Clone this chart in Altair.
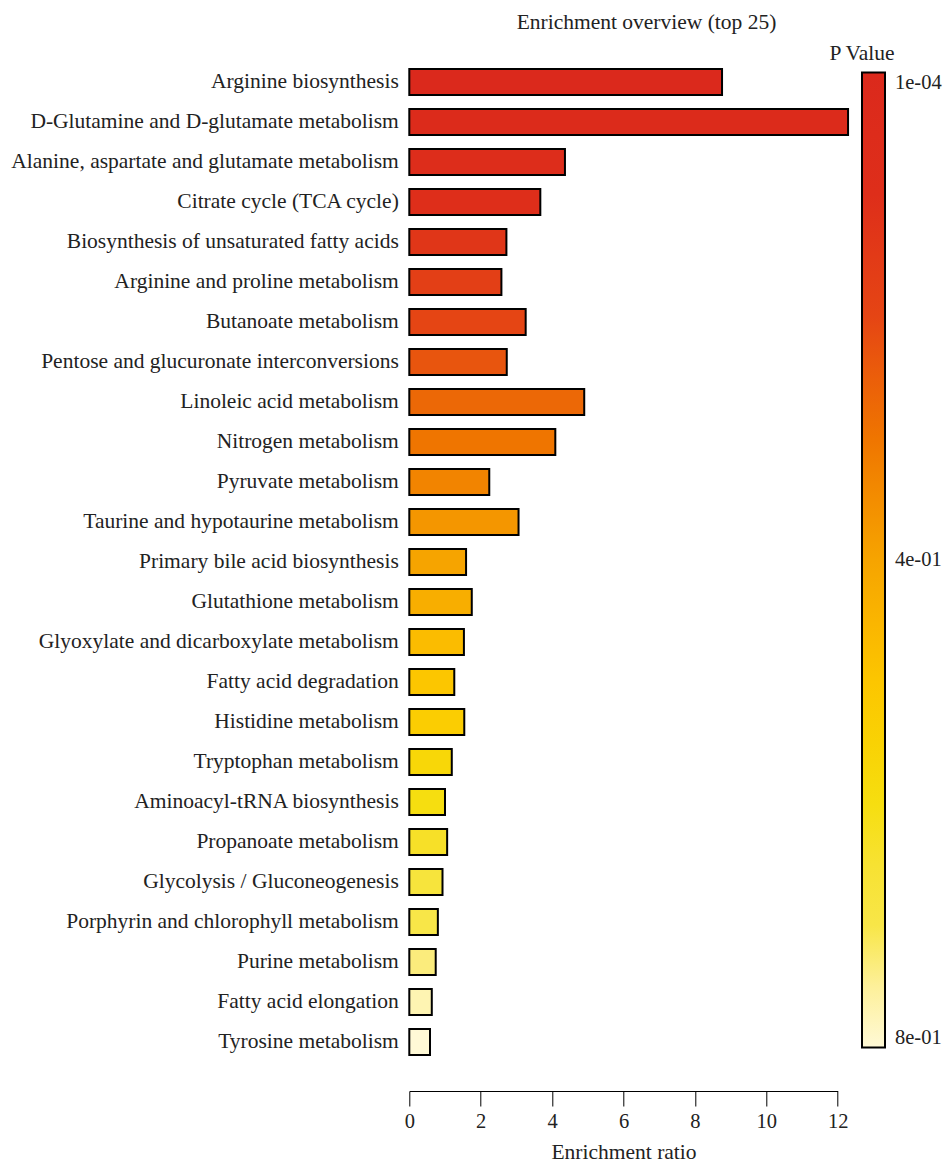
import altair as alt
import pandas as pd

# Pathway enrichment results, ordered as listed on the chart (top to bottom)
pathways = [
    "Arginine biosynthesis",
    "D-Glutamine and D-glutamate metabolism",
    "Alanine, aspartate and glutamate metabolism",
    "Citrate cycle (TCA cycle)",
    "Biosynthesis of unsaturated fatty acids",
    "Arginine and proline metabolism",
    "Butanoate metabolism",
    "Pentose and glucuronate interconversions",
    "Linoleic acid metabolism",
    "Nitrogen metabolism",
    "Pyruvate metabolism",
    "Taurine and hypotaurine metabolism",
    "Primary bile acid biosynthesis",
    "Glutathione metabolism",
    "Glyoxylate and dicarboxylate metabolism",
    "Fatty acid degradation",
    "Histidine metabolism",
    "Tryptophan metabolism",
    "Aminoacyl-tRNA biosynthesis",
    "Propanoate metabolism",
    "Glycolysis / Gluconeogenesis",
    "Porphyrin and chlorophyll metabolism",
    "Purine metabolism",
    "Fatty acid elongation",
    "Tyrosine metabolism",
]

enrichment_ratio = [
    8.76, 12.29, 4.36, 3.67, 2.72, 2.58, 3.26, 2.73, 4.90, 4.09,
    2.24, 3.06, 1.59, 1.75, 1.53, 1.26, 1.54, 1.19, 1.00, 1.06,
    0.93, 0.80, 0.74, 0.63, 0.58,
]

p_values = [
    0.0001, 0.03, 0.07, 0.10, 0.13, 0.17, 0.20, 0.23, 0.27, 0.30,
    0.33, 0.37, 0.40, 0.43, 0.47, 0.50, 0.53, 0.57, 0.60, 0.63,
    0.67, 0.70, 0.73, 0.77, 0.80,
]

# Colour ramp, listed from the largest P value (cream) down to the smallest (red);
# the descending domain puts the smallest P value at the top of the colour bar.
color_domain = [0.8, 0.75, 0.7, 0.6, 0.5, 0.4, 0.3, 0.2, 0.1, 0.0001]
color_range = [
    "#FFF9D6", "#FDF09A", "#F8E648", "#F6DE10", "#FCC600",
    "#F6A400", "#EF7500", "#E54514", "#DE2E1A", "#DB291C",
]

x_ticks = [0, 2, 4, 6, 8, 10, 12]

df = pd.DataFrame({
    "pathway": pathways,
    "ratio": enrichment_ratio,
    "p": p_values,
})

FONT = "Liberation Serif"
INK = "#222222"

PLOT_LEFT = 409.3
PLOT_TOP = 62
PLOT_W = 428.4
PLOT_H = 1000

# The legend title is centred on the colour bar's left edge, so the legend box
# starts half a title width to the left of the bar.
BAR_LEFT = 862
HALF_TITLE = 33

bars = alt.Chart(df).mark_bar(stroke="black", strokeWidth=2).encode(
    y=alt.Y(
        "pathway:N",
        sort=pathways,
        scale=alt.Scale(paddingInner=0.35, paddingOuter=0.175),
        axis=alt.Axis(
            title=None,
            domain=False,
            ticks=False,
            tickSize=0,
            labelPadding=11,
            labelFont=FONT,
            labelFontSize=21.5,
            labelColor=INK,
            labelLimit=500,
        ),
    ),
    x=alt.X(
        "ratio:Q",
        scale=alt.Scale(domain=[0, 12], nice=False),
        axis=alt.Axis(
            title="Enrichment ratio",
            values=x_ticks,
            grid=False,
            offset=29,
            tickSize=15,
            tickColor="black",
            domainColor="black",
            labelFont=FONT,
            labelFontSize=20.5,
            labelColor=INK,
            labelPadding=5,
            labelFlush=False,
            titleFont=FONT,
            titleFontSize=21.5,
            titleFontWeight="normal",
            titleColor=INK,
            titlePadding=10,
        ),
    ),
    fill=alt.Fill(
        "p:Q",
        scale=alt.Scale(domain=color_domain, range=color_range),
        legend=alt.Legend(
            title="P Value",
            type="gradient",
            orient="none",
            direction="vertical",
            legendX=BAR_LEFT - HALF_TITLE - PLOT_LEFT,
            legendY=-19,
            gradientLength=975,
            gradientThickness=23,
            gradientStrokeColor="black",
            gradientStrokeWidth=2,
            values=[0.8, 0.4, 0.0001],
            labelExpr="replace(format(datum.value, '.0e'), 'e-', 'e-0')",
            labelOverlap=False,
            labelBaseline="middle",
            labelOffset=10,
            labelFont=FONT,
            labelFontSize=20.5,
            labelColor=INK,
            titleFont=FONT,
            titleFontSize=21.5,
            titleFontWeight="normal",
            titleColor=INK,
            titleAnchor="start",
            titleAlign="center",
            titlePadding=8,
        ),
    ),
)

chart = bars.properties(
    width=PLOT_W,
    height=PLOT_H,
    background="white",
    title=alt.TitleParams(
        "Enrichment overview (top 25)",
        font=FONT,
        fontSize=21.5,
        fontWeight="normal",
        color=INK,
        anchor="middle",
        dx=23,
        offset=10,
    ),
    autosize=alt.AutoSizeParams(type="none"),
    padding={
        "left": PLOT_LEFT,
        "top": PLOT_TOP,
        "right": 945 - PLOT_LEFT - PLOT_W,
        "bottom": 1164 - PLOT_TOP - PLOT_H,
    },
).configure_view(stroke=None)

chart.save("out.html", embed_options={"renderer": "svg", "actions": False})
